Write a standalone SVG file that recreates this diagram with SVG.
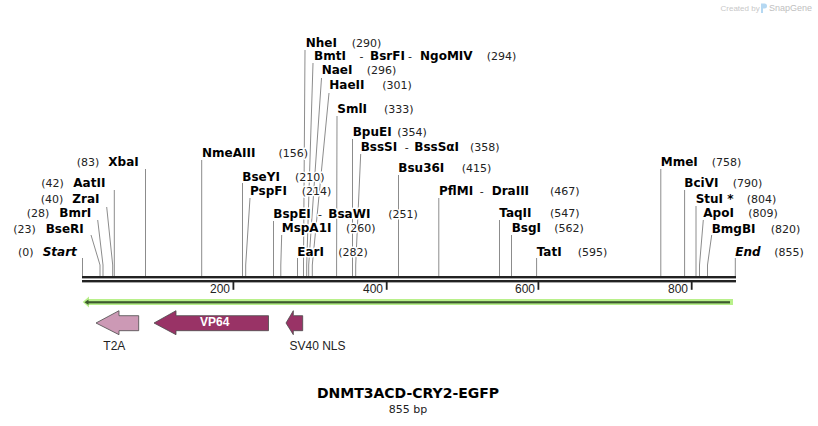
<svg xmlns="http://www.w3.org/2000/svg" width="818" height="426" viewBox="0 0 818 426">
<style>
.n{font-family:"DejaVu Sans",Verdana,sans-serif;font-size:12px;font-weight:bold;fill:#000}
.i{font-style:italic}
.p{font-family:"DejaVu Sans",Verdana,sans-serif;font-size:11px;fill:#222}
.h{stroke:#fff;stroke-width:3;paint-order:stroke;stroke-linejoin:round}
.ld{stroke:#8c8c8c;stroke-width:1;fill:none}
.tk{font-family:"Liberation Sans",Arial,sans-serif;font-size:12px;fill:#222;text-anchor:end}
.fl{font-family:"Liberation Sans",Arial,sans-serif;font-size:12px;fill:#222}
.ft{stroke:#4a4a4a;stroke-width:0.8}
</style>
<rect width="818" height="426" fill="#fff"/>

<g id="watermark">
<text x="720.5" y="10.5" style="font-family:'Liberation Sans',Arial,sans-serif;font-size:8px;fill:#c8c8c8">Created by</text>
<path d="M761 3.5h3.5a2.5 2.5 0 0 1 0 5h-1.5v4.5h-2z" fill="#b5d8f2"/>
<text x="769" y="10.5" style="font-family:'Liberation Sans',Arial,sans-serif;font-size:9px;fill:#c0c0c0">SnapGene</text>
</g>

<g id="connectors">
<path class="ld" d="M82.5 258V276"/>
<path class="ld" d="M91 235L100 265V276"/>
<path class="ld" d="M97.7 220L103 265V276"/>
<path class="ld" d="M106.7 207L112.7 265V276"/>
<path class="ld" d="M114.3 190V276"/>
<path class="ld" d="M145.5 169V276"/>
<path class="ld" d="M201.7 160V276"/>
<path class="ld" d="M242.5 183V276"/>
<path class="ld" d="M250 198L245.7 265V276"/>
<path class="ld" d="M273.5 221V276"/>
<path class="ld" d="M281.7 235L280.8 265V276"/>
<path class="ld" d="M297.5 258V276"/>
<path class="ld" d="M305 50L303.5 265V276"/>
<path class="ld" d="M313 63L306.7 265V276"/>
<path class="ld" d="M321.5 78L308.7 265V276"/>
<path class="ld" d="M329 93L312.3 265V276"/>
<path class="ld" d="M337 116L336.6 265V276"/>
<path class="ld" d="M352.5 139V276"/>
<path class="ld" d="M360.7 154L355.7 265V276"/>
<path class="ld" d="M398.5 175V276"/>
<path class="ld" d="M438.8 198V276"/>
<path class="ld" d="M499.5 220V276"/>
<path class="ld" d="M511.5 235V276"/>
<path class="ld" d="M536.6 258V276"/>
<path class="ld" d="M660.8 169V276"/>
<path class="ld" d="M684.6 190V276"/>
<path class="ld" d="M696 206V276"/>
<path class="ld" d="M703.3 220L699.5 265V276"/>
<path class="ld" d="M711.7 235L707.5 265V276"/>
<path class="ld" d="M735.3 258V276"/>
</g>

<g id="backbone">
<rect x="82" y="276" width="654" height="2.4" fill="#222"/>
<rect x="82" y="280" width="654" height="2.4" fill="#222"/>
<rect x="232.5" y="282" width="1.8" height="7.8" fill="#222"/>
<rect x="385.8" y="282" width="1.8" height="7.8" fill="#222"/>
<rect x="537.5" y="282" width="1.8" height="7.8" fill="#222"/>
<rect x="690.8" y="282" width="1.8" height="7.8" fill="#222"/>
<text class="tk" x="230" y="293">200</text>
<text class="tk" x="383" y="293">400</text>
<text class="tk" x="535" y="293">600</text>
<text class="tk" x="688" y="293">800</text>
</g>

<g id="orf-arrow">
<polygon points="82.7,302 89,296.5 89,299 733,299 733,305 89,305 89,307.5" fill="#b8f08a"/>
<rect x="87" y="301.2" width="643" height="2.2" fill="#3d5a2e"/>
<polygon points="84.5,302.3 88.5,299.5 88.5,305.1" fill="#3d5a2e"/>
</g>

<g id="feature-T2A">
<polygon class="ft" points="96,323 119,310.7 119,315.7 138.7,315.7 138.7,330.7 119,330.7 119,334.7" fill="#cc99b5"/>
<text class="fl" x="103.3" y="349.5">T2A</text>
</g>
<g id="feature-VP64">
<polygon class="ft" points="154,323 176,310.7 176,315.7 268.5,315.7 268.5,330.7 176,330.7 176,334.7" fill="#993366"/>
<text x="214.7" y="326.3" text-anchor="middle" style="font-family:'Liberation Sans',Arial,sans-serif;font-size:12px;font-weight:bold;fill:#fff">VP64</text>
</g>
<g id="feature-SV40NLS">
<polygon class="ft" points="286,323 293.3,310.7 293.3,315.7 302.7,315.7 302.7,330.7 293.3,330.7 293.3,334.7" fill="#993366"/>
<text class="fl" x="289.5" y="349.5">SV40 NLS</text>
</g>

<g id="site-Start"><text class="p h" x="18" y="255.7">(0)</text><text class="n i h" x="42.7" y="255.7">Start</text></g>
<g id="site-BseRI"><text class="p h" x="13.3" y="232.7">(23)</text><text class="n h" x="45.7" y="232.7">BseRI</text></g>
<g id="site-BmrI"><text class="p h" x="26.7" y="217.3">(28)</text><text class="n h" x="59.3" y="217.3">BmrI</text></g>
<g id="site-ZraI"><text class="p h" x="40.7" y="203.3">(40)</text><text class="n h" x="72.3" y="203.3">ZraI</text></g>
<g id="site-AatII"><text class="p h" x="41.3" y="187.3">(42)</text><text class="n h" x="73.3" y="187.3">AatII</text></g>
<g id="site-XbaI"><text class="p h" x="76.7" y="166">(83)</text><text class="n h" x="108.3" y="166">XbaI</text></g>
<g id="site-NmeAIII"><text class="n h" x="202" y="157.3">NmeAIII</text><text class="p h" x="278.5" y="157.3">(156)</text></g>
<g id="site-BseYI"><text class="n h" x="242.3" y="180.7">BseYI</text><text class="p h" x="295" y="180.7">(210)</text></g>
<g id="site-PspFI"><text class="n h" x="250" y="195">PspFI</text><text class="p h" x="301.7" y="195">(214)</text></g>
<g id="site-BspEI"><text class="n h" x="273.3" y="217.7">BspEI</text><text class="p h" x="320" y="217.7" text-anchor="middle">-</text><text class="n h" x="328.3" y="217.7">BsaWI</text><text class="p h" x="388.3" y="217.7">(251)</text></g>
<g id="site-MspA1I"><text class="n h" x="281.7" y="232.3">MspA1I</text><text class="p h" x="346" y="232.3">(260)</text></g>
<g id="site-EarI"><text class="n h" x="297.3" y="255.7">EarI</text><text class="p h" x="338.3" y="255.7">(282)</text></g>
<g id="site-NheI"><text class="n h" x="305.7" y="46.7">NheI</text><text class="p h" x="351.7" y="46.7">(290)</text></g>
<g id="site-BmtI"><text class="n h" x="314" y="60">BmtI</text><text class="p h" x="361.5" y="60" text-anchor="middle">-</text><text class="n h" x="370" y="60">BsrFI</text><text class="p h" x="410" y="60" text-anchor="middle">-</text><text class="n h" x="420" y="60">NgoMIV</text><text class="p h" x="486.7" y="60">(294)</text></g>
<g id="site-NaeI"><text class="n h" x="321.7" y="74.3">NaeI</text><text class="p h" x="366.7" y="74.3">(296)</text></g>
<g id="site-HaeII"><text class="n h" x="329.3" y="89.3">HaeII</text><text class="p h" x="382.3" y="89.3">(301)</text></g>
<g id="site-SmlI"><text class="n h" x="337.3" y="112.7">SmlI</text><text class="p h" x="384" y="112.7">(333)</text></g>
<g id="site-BpuEI"><text class="n h" x="352.7" y="136">BpuEI</text><text class="p h" x="397.3" y="136">(354)</text></g>
<g id="site-BssSI"><text class="n h" x="360.7" y="150.7">BssSI</text><text class="p h" x="406.7" y="150.7" text-anchor="middle">-</text><text class="n h" x="414.3" y="150.7">BssSαI</text><text class="p h" x="470" y="150.7">(358)</text></g>
<g id="site-Bsu36I"><text class="n h" x="398.3" y="172.3">Bsu36I</text><text class="p h" x="461.7" y="172.3">(415)</text></g>
<g id="site-PflMI"><text class="n h" x="439" y="195">PflMI</text><text class="p h" x="481.7" y="195" text-anchor="middle">-</text><text class="n h" x="491.7" y="195">DraIII</text><text class="p h" x="550" y="195">(467)</text></g>
<g id="site-TaqII"><text class="n h" x="499.3" y="217.3">TaqII</text><text class="p h" x="550" y="217.3">(547)</text></g>
<g id="site-BsgI"><text class="n h" x="511.7" y="232.3">BsgI</text><text class="p h" x="554.3" y="232.3">(562)</text></g>
<g id="site-TatI"><text class="n h" x="536.7" y="255.7">TatI</text><text class="p h" x="577.7" y="255.7">(595)</text></g>
<g id="site-MmeI"><text class="n h" x="660.7" y="166">MmeI</text><text class="p h" x="711.7" y="166">(758)</text></g>
<g id="site-BciVI"><text class="n h" x="684.3" y="187.3">BciVI</text><text class="p h" x="732.7" y="187.3">(790)</text></g>
<g id="site-StuI"><text class="n h" x="695.7" y="203.3">StuI *</text><text class="p h" x="746.7" y="203.3">(804)</text></g>
<g id="site-ApoI"><text class="n h" x="703.3" y="217.3">ApoI</text><text class="p h" x="748.3" y="217.3">(809)</text></g>
<g id="site-BmgBI"><text class="n h" x="711.7" y="232.7">BmgBI</text><text class="p h" x="770.7" y="232.7">(820)</text></g>
<g id="site-End"><text class="n i h" x="735.3" y="255.7">End</text><text class="p h" x="774.3" y="255.7">(855)</text></g>

<g id="title">
<text x="408" y="397.7" text-anchor="middle" style="font-family:'DejaVu Sans',Verdana,sans-serif;font-size:14px;font-weight:bold;fill:#000">DNMT3ACD-CRY2-EGFP</text>
<text x="408" y="413.3" text-anchor="middle" style="font-family:'DejaVu Sans',Verdana,sans-serif;font-size:11px;fill:#222">855 bp</text>
</g>
</svg>
